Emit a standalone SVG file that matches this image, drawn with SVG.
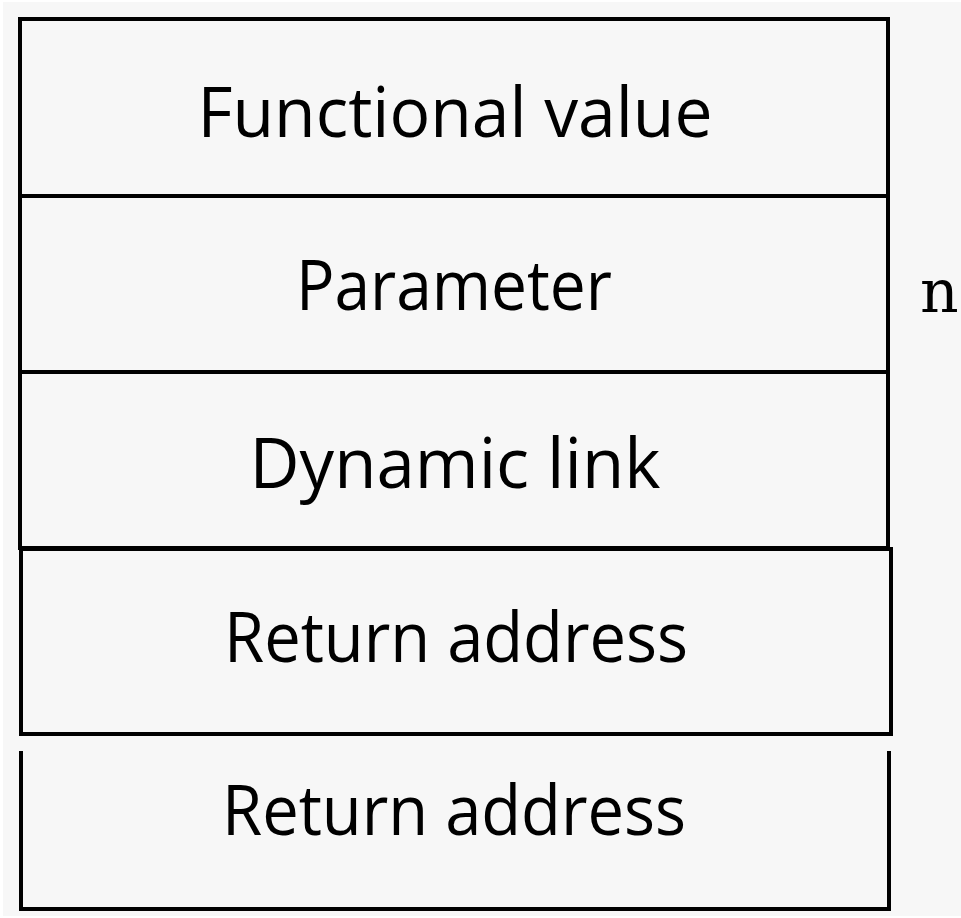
<svg xmlns="http://www.w3.org/2000/svg" width="961" height="918" viewBox="0 0 961 918">
<style>
.cell{fill:none;stroke:#000;stroke-width:4}
.lbl{font-family:"Open Sans","Noto Sans",sans-serif;font-size:70px;fill:#000;text-anchor:middle}
.mono{font-family:"DejaVu Serif","Liberation Serif",serif;font-size:60px;fill:#000}
</style>
<rect x="0" y="0" width="961" height="918" fill="#ffffff"/>
<rect x="3" y="2" width="958" height="914" fill="#f7f7f7"/>
<g id="cell-functional-value">
<rect class="cell" x="20" y="19" width="868" height="177"/>
<text class="lbl" x="455" y="137" textLength="515" lengthAdjust="spacingAndGlyphs">Functional value</text>
</g>
<g id="cell-parameter">
<rect class="cell" x="20" y="196" width="868" height="176"/>
<text class="lbl" x="454" y="310" textLength="316" lengthAdjust="spacingAndGlyphs">Parameter</text>
</g>
<g id="cell-dynamic-link">
<rect class="cell" x="20" y="372" width="868" height="176"/>
<text class="lbl" x="455" y="488" textLength="411" lengthAdjust="spacingAndGlyphs">Dynamic link</text>
</g>
<g id="cell-return-address-1">
<rect class="cell" x="21" y="549" width="870" height="185"/>
<text class="lbl" x="456" y="662" textLength="464" lengthAdjust="spacingAndGlyphs">Return address</text>
</g>
<g id="cell-return-address-2">
<path class="cell" d="M21,751 V909 H889 V751"/>
<text class="lbl" x="454" y="835" textLength="464" lengthAdjust="spacingAndGlyphs">Return address</text>
</g>
<g id="label-n">
<text class="mono" x="920" y="312">n</text>
</g>
<g id="connectors"></g>
</svg>
